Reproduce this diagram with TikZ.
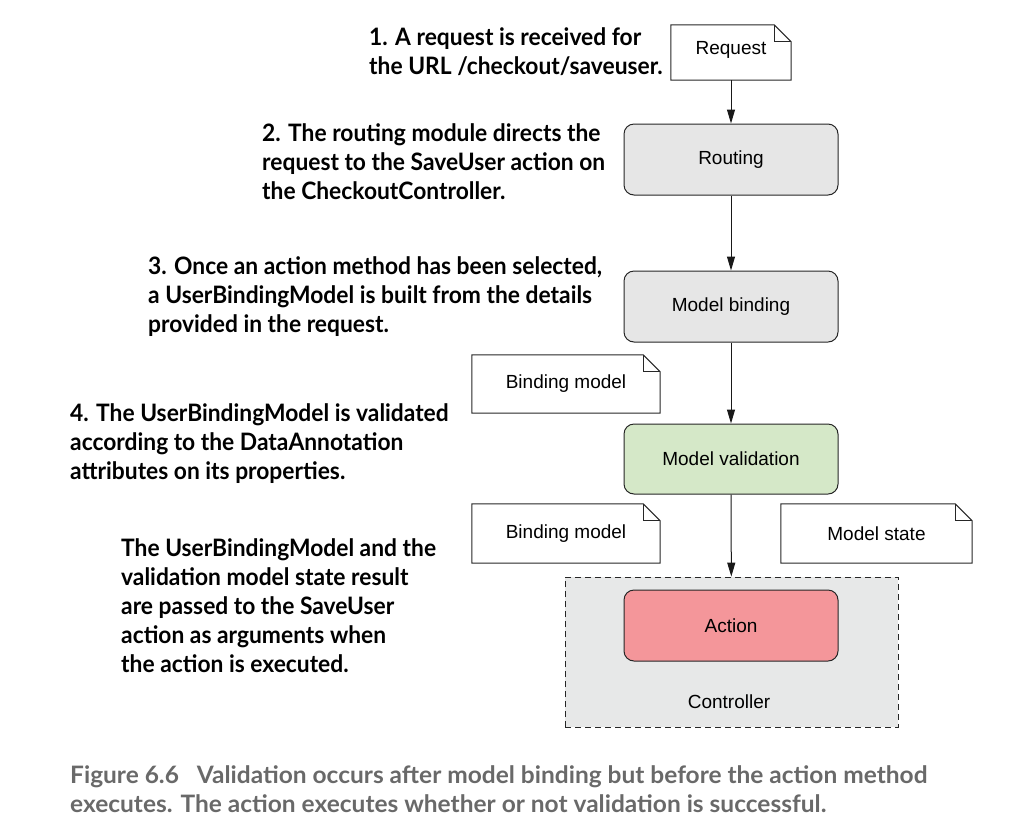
\documentclass[tikz,border=0pt]{standalone}
\usepackage{fontspec}
\setmainfont{Liberation Sans}
\newfontfamily\notefont{Lato}[FakeStretch=0.95]
\newfontfamily\capfont{Lato}[FakeStretch=1.02]
\usetikzlibrary{arrows.meta}

\definecolor{boxgray}{RGB}{230,230,230}
\definecolor{valgreen}{RGB}{213,232,200}
\definecolor{actpink}{RGB}{244,150,154}
\definecolor{ctrlgray}{RGB}{231,232,232}
\definecolor{capgray}{RGB}{105,105,105}

\tikzset{
	procbox/.style={rectangle, rounded corners=10pt, draw=black!85, line width=1pt, minimum width=214pt, minimum height=71pt, inner sep=0pt, font=\fontsize{19}{23}\selectfont},
	docnote/.style={rectangle, fill=white, minimum width=188pt, minimum height=58pt, inner sep=0pt, font=\fontsize{19}{23}\selectfont},
	foldline/.style={draw=black!85, line width=1pt, line join=miter},
	notetext/.style={anchor=base west, align=left, inner sep=0pt, font=\notefont\bfseries\fontsize{24}{29}\selectfont},
	flowarrow/.style={-{Triangle[length=14pt,width=8pt]}, line width=1pt, draw=black!90},
}

% outline of a note with a folded top right corner
\newcommand{\docfold}[1]{%
	\draw[foldline] (#1.north west) -- ([xshift=-17pt]#1.north east) -- ([yshift=-17pt]#1.north east) -- (#1.south east) -- (#1.south west) -- cycle;
	\draw[foldline] ([xshift=-17pt]#1.north east) |- ([yshift=-17pt]#1.north east);
}

\begin{document}
\begin{tikzpicture}
				\useasboundingbox (0pt,0pt) rectangle (1020pt,-831pt);
				% controller frame first, so that the action sits on it
				\node (ctrl) [rectangle, draw=black!85, dashed, dash pattern=on 6pt off 4pt, line width=0.8pt, fill=ctrlgray, minimum width=333pt, minimum height=150pt] at (731.5pt, -652.0pt) {};
				\node (ctrllabel) [font=\fontsize{19}{23}\selectfont] at (729.0pt, -702.0pt) {Controller};
				\node (req) [docnote, minimum width=120pt, minimum height=55pt, text depth=9pt] at (731.0pt, -52.5pt) {Request};
				\node (routing) [procbox, fill=boxgray] at (731.0pt, -159.5pt) {Routing};
				\node (binding) [procbox, fill=boxgray] at (731.0pt, -306.5pt) {Model binding};
				\node (bmodelA) [docnote] at (566.0pt, -384.0pt) {Binding model};
				\node (validation) [procbox, fill=valgreen, minimum height=70pt] at (731.0pt, -459.0pt) {Model validation};
				\node (bmodelB) [docnote, minimum height=59pt] at (566.0pt, -533.5pt) {Binding model};
				\node (mstate) [docnote, minimum width=191pt, minimum height=59pt] at (876.5pt, -533.5pt) {Model state};
				\node (action) [procbox, fill=actpink] at (731.0pt, -625.5pt) {Action};
				\docfold{req}
				\docfold{bmodelA}
				\docfold{bmodelB}
				\docfold{mstate}
				\draw [flowarrow] (req) to (routing);
				\draw [flowarrow] (routing) to (binding);
				\draw [flowarrow] (binding) to (validation);
				\draw [flowarrow] (validation) to (ctrl);
				% notes sit on the baseline of their last line
				\node (note1) [notetext] at (369.0pt, -74.5pt) {1. A request is received for\\the URL /checkout/saveuser.};
				\node (note2) [notetext] at (262.0pt, -199.5pt) {2. The routing module directs the\\request to the SaveUser action on\\the CheckoutController.};
				\node (note3) [notetext] at (148.0pt, -332.5pt) {3. Once an action method has been selected,\\a UserBindingModel is built from the details\\provided in the request.};
				\node (note4) [notetext] at (70.0pt, -479.5pt) {4. The UserBindingModel is validated\\according to the DataAnnotation\\attributes on its properties.};
				\node (note5) [notetext] at (121.0pt, -672.5pt) {The UserBindingModel and the\\validation model state result\\are passed to the SaveUser\\action as arguments when\\the action is executed.};
				\node (caption) [anchor=base west, align=left, inner sep=0pt, text=capgray, font=\capfont\bfseries\fontsize{24}{29}\selectfont] at (70.0pt, -812.0pt) {Figure 6.6\hspace{18pt}Validation occurs after model binding but before the action method\\executes. The action executes whether or not validation is successful.};
\end{tikzpicture}
\end{document}
